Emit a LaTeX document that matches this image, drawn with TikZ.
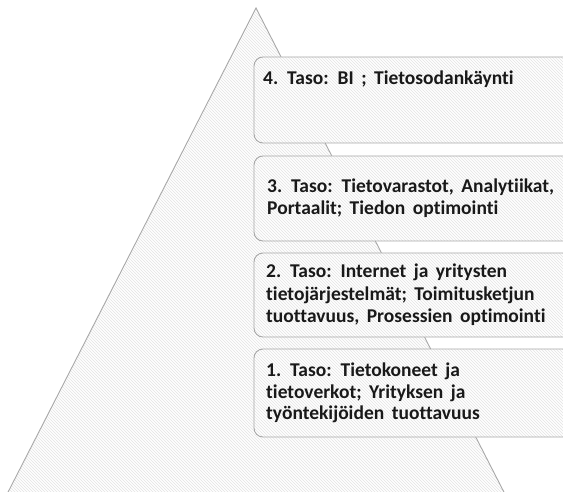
\documentclass[tikz,border=0pt]{standalone}
\usepackage{fontspec}
\setmainfont{Carlito}[Ligatures={NoCommon}, WordSpace={1.7,1,1}]
\usetikzlibrary{patterns}
\definecolor{edgegray}{HTML}{A8A8A8}
\definecolor{hatch}{HTML}{E4E4E4}
\tikzset{
  hatched/.style={pattern=north west lines, pattern color=hatch},
  boxshape/.style={draw=edgegray, line width=0.9pt, rounded corners=9pt},
  linetext/.style={anchor=base west, inner sep=0pt, font=\bfseries\fontsize{19.5}{22.5}\selectfont, text=black!90}
}
\begin{document}
\begin{tikzpicture}[x=1pt,y=-1pt]
\useasboundingbox (0,0) rectangle (563,492);
\begin{scope}
\clip (0,0) rectangle (563,492);
% pyramid
\coordinate (apex) at (256,8);
\coordinate (bl) at (4,500);
\coordinate (br) at (508,500);
\fill[white] (apex) -- (bl) -- (br) -- cycle;
\fill[hatched] (apex) -- (bl) -- (br) -- cycle;
\draw[edgegray, line width=0.9pt] (bl) -- (apex) -- (br);
% boxes
\foreach \t/\b in {57/143, 156/241, 253/337, 349/437}{
  \fill[white, rounded corners=9pt] (254,\t) rectangle (600,\b);
  \fill[hatched, rounded corners=9pt] (254,\t) rectangle (600,\b);
  \draw[boxshape] (254,\t) rectangle (600,\b);
}
\end{scope}
% texts
\node[linetext] (t4) at (263,85) {4. Taso: BI ; Tietosodankäynti};
\node[linetext] (t3a) at (267,193) {3. Taso: Tietovarastot, Analytiikat,};
\node[linetext] (t3b) at (267,215) {Portaalit; Tiedon optimointi};
\node[linetext] (t2a) at (266,278) {2. Taso: Internet ja yritysten};
\node[linetext] (t2b) at (266,301) {tietojärjestelmät; Toimitusketjun};
\node[linetext] (t2c) at (266,323) {tuottavuus, Prosessien optimointi};
\node[linetext] (t1a) at (266,376) {1. Taso: Tietokoneet ja};
\node[linetext] (t1b) at (266,398) {tietoverkot; Yrityksen ja};
\node[linetext] (t1c) at (266,419) {työntekijöiden tuottavuus};
\end{tikzpicture}
\end{document}
